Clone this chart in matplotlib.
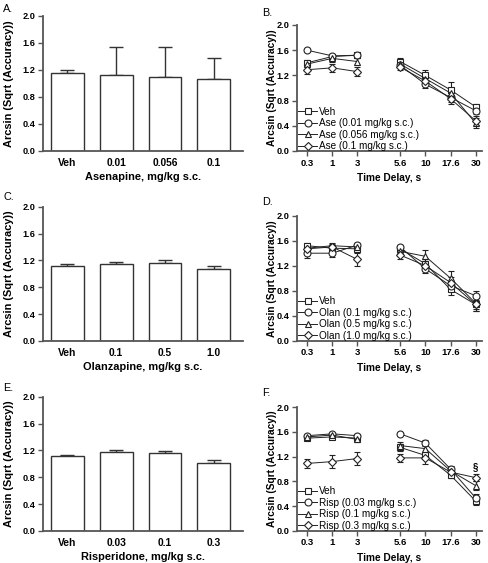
import matplotlib
matplotlib.use("Agg")
import matplotlib.pyplot as plt
from matplotlib.lines import Line2D
import numpy as np

plt.rcParams['font.family'] = ['Liberation Sans', 'DejaVu Sans']

# ---------------- data ----------------
ase_doses = ['Veh', '0.01', '0.056', '0.1']
ase_means = [1.16, 1.12, 1.09, 1.06]
ase_errs = [0.03, 0.41, 0.45, 0.31]

olan_doses = ['Veh', '0.1', '0.5', '1.0']
olan_means = [1.11, 1.14, 1.16, 1.07]
olan_errs = [0.03, 0.03, 0.04, 0.04]

risp_doses = ['Veh', '0.03', '0.1', '0.3']
risp_means = [1.11, 1.17, 1.16, 1.02]
risp_errs = [0.02, 0.03, 0.03, 0.03]

delays = ['0.3', '1', '3', '5.6', '10', '17.6', '30']

# Panel B
veh_B = [1.40, 1.50, 1.52, 1.42, 1.20, 0.97, 0.70]
veh_B_err = [0.04, 0.03, 0.04, 0.06, 0.08, 0.13, 0.05]
ase001 = [1.60, 1.51, 1.52, 1.36, 1.06, 0.85, 0.64]
ase001_err = [0.02, 0.03, 0.03, 0.05, 0.06, 0.08, 0.06]
ase0056 = [1.38, 1.47, 1.42, 1.38, 1.15, 0.92, 0.44]
ase0056_err = [0.05, 0.05, 0.06, 0.05, 0.06, 0.08, 0.08]
ase01 = [1.29, 1.32, 1.26, 1.33, 1.11, 0.83, 0.48]
ase01_err = [0.07, 0.06, 0.07, 0.04, 0.05, 0.09, 0.07]

# Panel D
veh_D = [1.52, 1.48, 1.47, 1.47, 1.23, 0.82, 0.58]
veh_D_err = [0.04, 0.04, 0.04, 0.04, 0.07, 0.09, 0.10]
olan01 = [1.40, 1.40, 1.53, 1.50, 1.15, 0.88, 0.72]
olan01_err = [0.07, 0.06, 0.03, 0.03, 0.06, 0.08, 0.07]
olan05 = [1.48, 1.52, 1.50, 1.43, 1.35, 1.00, 0.60]
olan05_err = [0.05, 0.04, 0.04, 0.05, 0.10, 0.11, 0.09]
olan10 = [1.47, 1.50, 1.30, 1.37, 1.20, 0.93, 0.58]
olan10_err = [0.06, 0.05, 0.11, 0.07, 0.08, 0.09, 0.10]

# Panel F
veh_F = [1.50, 1.52, 1.50, 1.35, 1.22, 0.90, 0.48]
veh_F_err = [0.03, 0.03, 0.04, 0.06, 0.06, 0.04, 0.07]
risp003 = [1.54, 1.57, 1.54, 1.57, 1.42, 1.00, 0.53]
risp003_err = [0.02, 0.02, 0.02, 0.02, 0.05, 0.05, 0.06]
risp01 = [1.52, 1.55, 1.48, 1.38, 1.33, 0.97, 0.73]
risp01_err = [0.03, 0.03, 0.05, 0.05, 0.06, 0.07, 0.07]
risp03 = [1.09, 1.12, 1.17, 1.18, 1.18, 0.95, 0.86]
risp03_err = [0.08, 0.10, 0.10, 0.06, 0.10, 0.05, 0.06]

# ---------------- layout ----------------
W, H = 488, 563
fig = plt.figure(figsize=(W / 100, H / 100), dpi=100)

def ax_px(left, right, top, bottom):
    return fig.add_axes([left / W, 1 - bottom / H, (right - left) / W, (bottom - top) / H])

spine_col = '#555555'
YTICK_FS = 6.6
LEG_FS = 7.2

def style(ax, lab_fs):
    for s in ['top', 'right']:
        ax.spines[s].set_visible(False)
    for s in ['left', 'bottom']:
        ax.spines[s].set_color(spine_col)
        ax.spines[s].set_linewidth(1.3)
    ax.tick_params(direction='out', length=3.5, width=1.0, color=spine_col, pad=2)
    ax.set_ylim(0, 2.0)
    ax.set_yticks([0.0, 0.4, 0.8, 1.2, 1.6, 2.0])
    ax.set_yticklabels(['0.0', '0.4', '0.8', '1.2', '1.6', '2.0'], fontweight='bold', fontsize=YTICK_FS)
    ax.set_ylabel('Arcsin (Sqrt (Accuracy))', fontsize=lab_fs, fontweight='bold')


def bar_panel(ax, cats, means, errs, xlabel):
    x = np.arange(len(cats))
    ax.bar(x, means, width=0.67, color='white', edgecolor='#333333', linewidth=1.0, zorder=2)
    ax.errorbar(x, means, yerr=[np.zeros(len(errs)), errs], fmt='none', ecolor='#333333',
                elinewidth=1.0, capsize=5, capthick=1.0, zorder=1)
    ax.set_xlim(-0.5, 3.6)
    ax.set_xticks(x)
    ax.set_xticklabels(cats, fontweight='bold', fontsize=7.4)
    style(ax, 7.9)
    ax.set_xlabel(xlabel, fontsize=7.9, fontweight='bold', labelpad=3)
    ax.tick_params(axis='x', length=0, pad=5)
    ax.yaxis.set_label_coords((14 - 43) / 200, 0.5)


xpos = np.array([0, 1, 2, 3.7, 4.7, 5.7, 6.7])
markers = ['s', 'o', '^', 'D']
msizes = [4.5, 5.0, 5.0, 4.0]


def line_panel(ax, series, errs, labels):
    for ser, er, mk, ms in zip(series, errs, markers, msizes):
        for seg in (slice(0, 3), slice(3, 7)):
            ax.errorbar(xpos[seg], np.array(ser)[seg], yerr=np.array(er)[seg],
                        fmt='-', color='#222222', lw=0.7, marker=mk, ms=ms,
                        mfc='white', mec='#222222', mew=0.8, ecolor='#222222',
                        elinewidth=0.8, capsize=2.5, capthick=0.8)
    ax.set_xlim(-0.4, 6.95)
    ax.set_xticks(xpos)
    ax.set_xticklabels(delays, fontweight='bold', fontsize=6.8)
    style(ax, 7.3)
    ax.set_xlabel('Time Delay, s', fontsize=7.3, fontweight='bold', labelpad=4)
    ax.tick_params(axis='x', pad=2)
    ax.yaxis.set_label_coords((277 - 297) / 185, 0.5)
    hs = [Line2D([], [], color='#222222', lw=0.7, marker=mk, ms=ms, mfc='white',
                 mec='#222222', mew=0.8) for mk, ms in zip(markers, msizes)]
    ax.legend(hs, labels, loc='lower left', bbox_to_anchor=(0.0, -0.01), frameon=False,
              fontsize=LEG_FS, handlelength=1.9, handletextpad=0.2, labelspacing=0.15,
              borderpad=0.1, borderaxespad=0.0)


axA = ax_px(43, 243, 15.7, 151)
bar_panel(axA, ase_doses, ase_means, ase_errs, 'Asenapine, mg/kg s.c.')
axC = ax_px(43, 243, 206.7, 341)
bar_panel(axC, olan_doses, olan_means, olan_errs, 'Olanzapine, mg/kg s.c.')
axE = ax_px(43, 243, 396.7, 531)
bar_panel(axE, risp_doses, risp_means, risp_errs, 'Risperidone, mg/kg s.c.')

axB = ax_px(297, 482, 25, 151)
line_panel(axB, [veh_B, ase001, ase0056, ase01], [veh_B_err, ase001_err, ase0056_err, ase01_err],
           ['Veh', 'Ase (0.01 mg/kg s.c.)', 'Ase (0.056 mg/kg s.c.)', 'Ase (0.1 mg/kg s.c.)'])
axD = ax_px(297, 482, 215.7, 340.7)
line_panel(axD, [veh_D, olan01, olan05, olan10], [veh_D_err, olan01_err, olan05_err, olan10_err],
           ['Veh', 'Olan (0.1 mg/kg s.c.)', 'Olan (0.5 mg/kg s.c.)', 'Olan (1.0 mg/kg s.c.)'])
axF = ax_px(297, 482, 407.3, 530.7)
line_panel(axF, [veh_F, risp003, risp01, risp03], [veh_F_err, risp003_err, risp01_err, risp03_err],
           ['Veh', 'Risp (0.03 mg/kg s.c.)', 'Risp (0.1 mg/kg s.c.)', 'Risp (0.3 mg/kg s.c.)'])
axF.text(xpos[6], risp03[6] + risp03_err[6] + 0.03, '§', ha='center', va='bottom',
         fontsize=7, fontweight='bold')

# panel letters
for lab, (x, y) in {'A.': (3, 4), 'C.': (3, 192), 'E.': (3, 383),
                    'B.': (262, 8), 'D.': (262, 197), 'F.': (262, 388)}.items():
    fig.text(x / W, 1 - y / H, lab, fontsize=7.8, ha='left', va='top')

fig.savefig('out.png', dpi=100)
